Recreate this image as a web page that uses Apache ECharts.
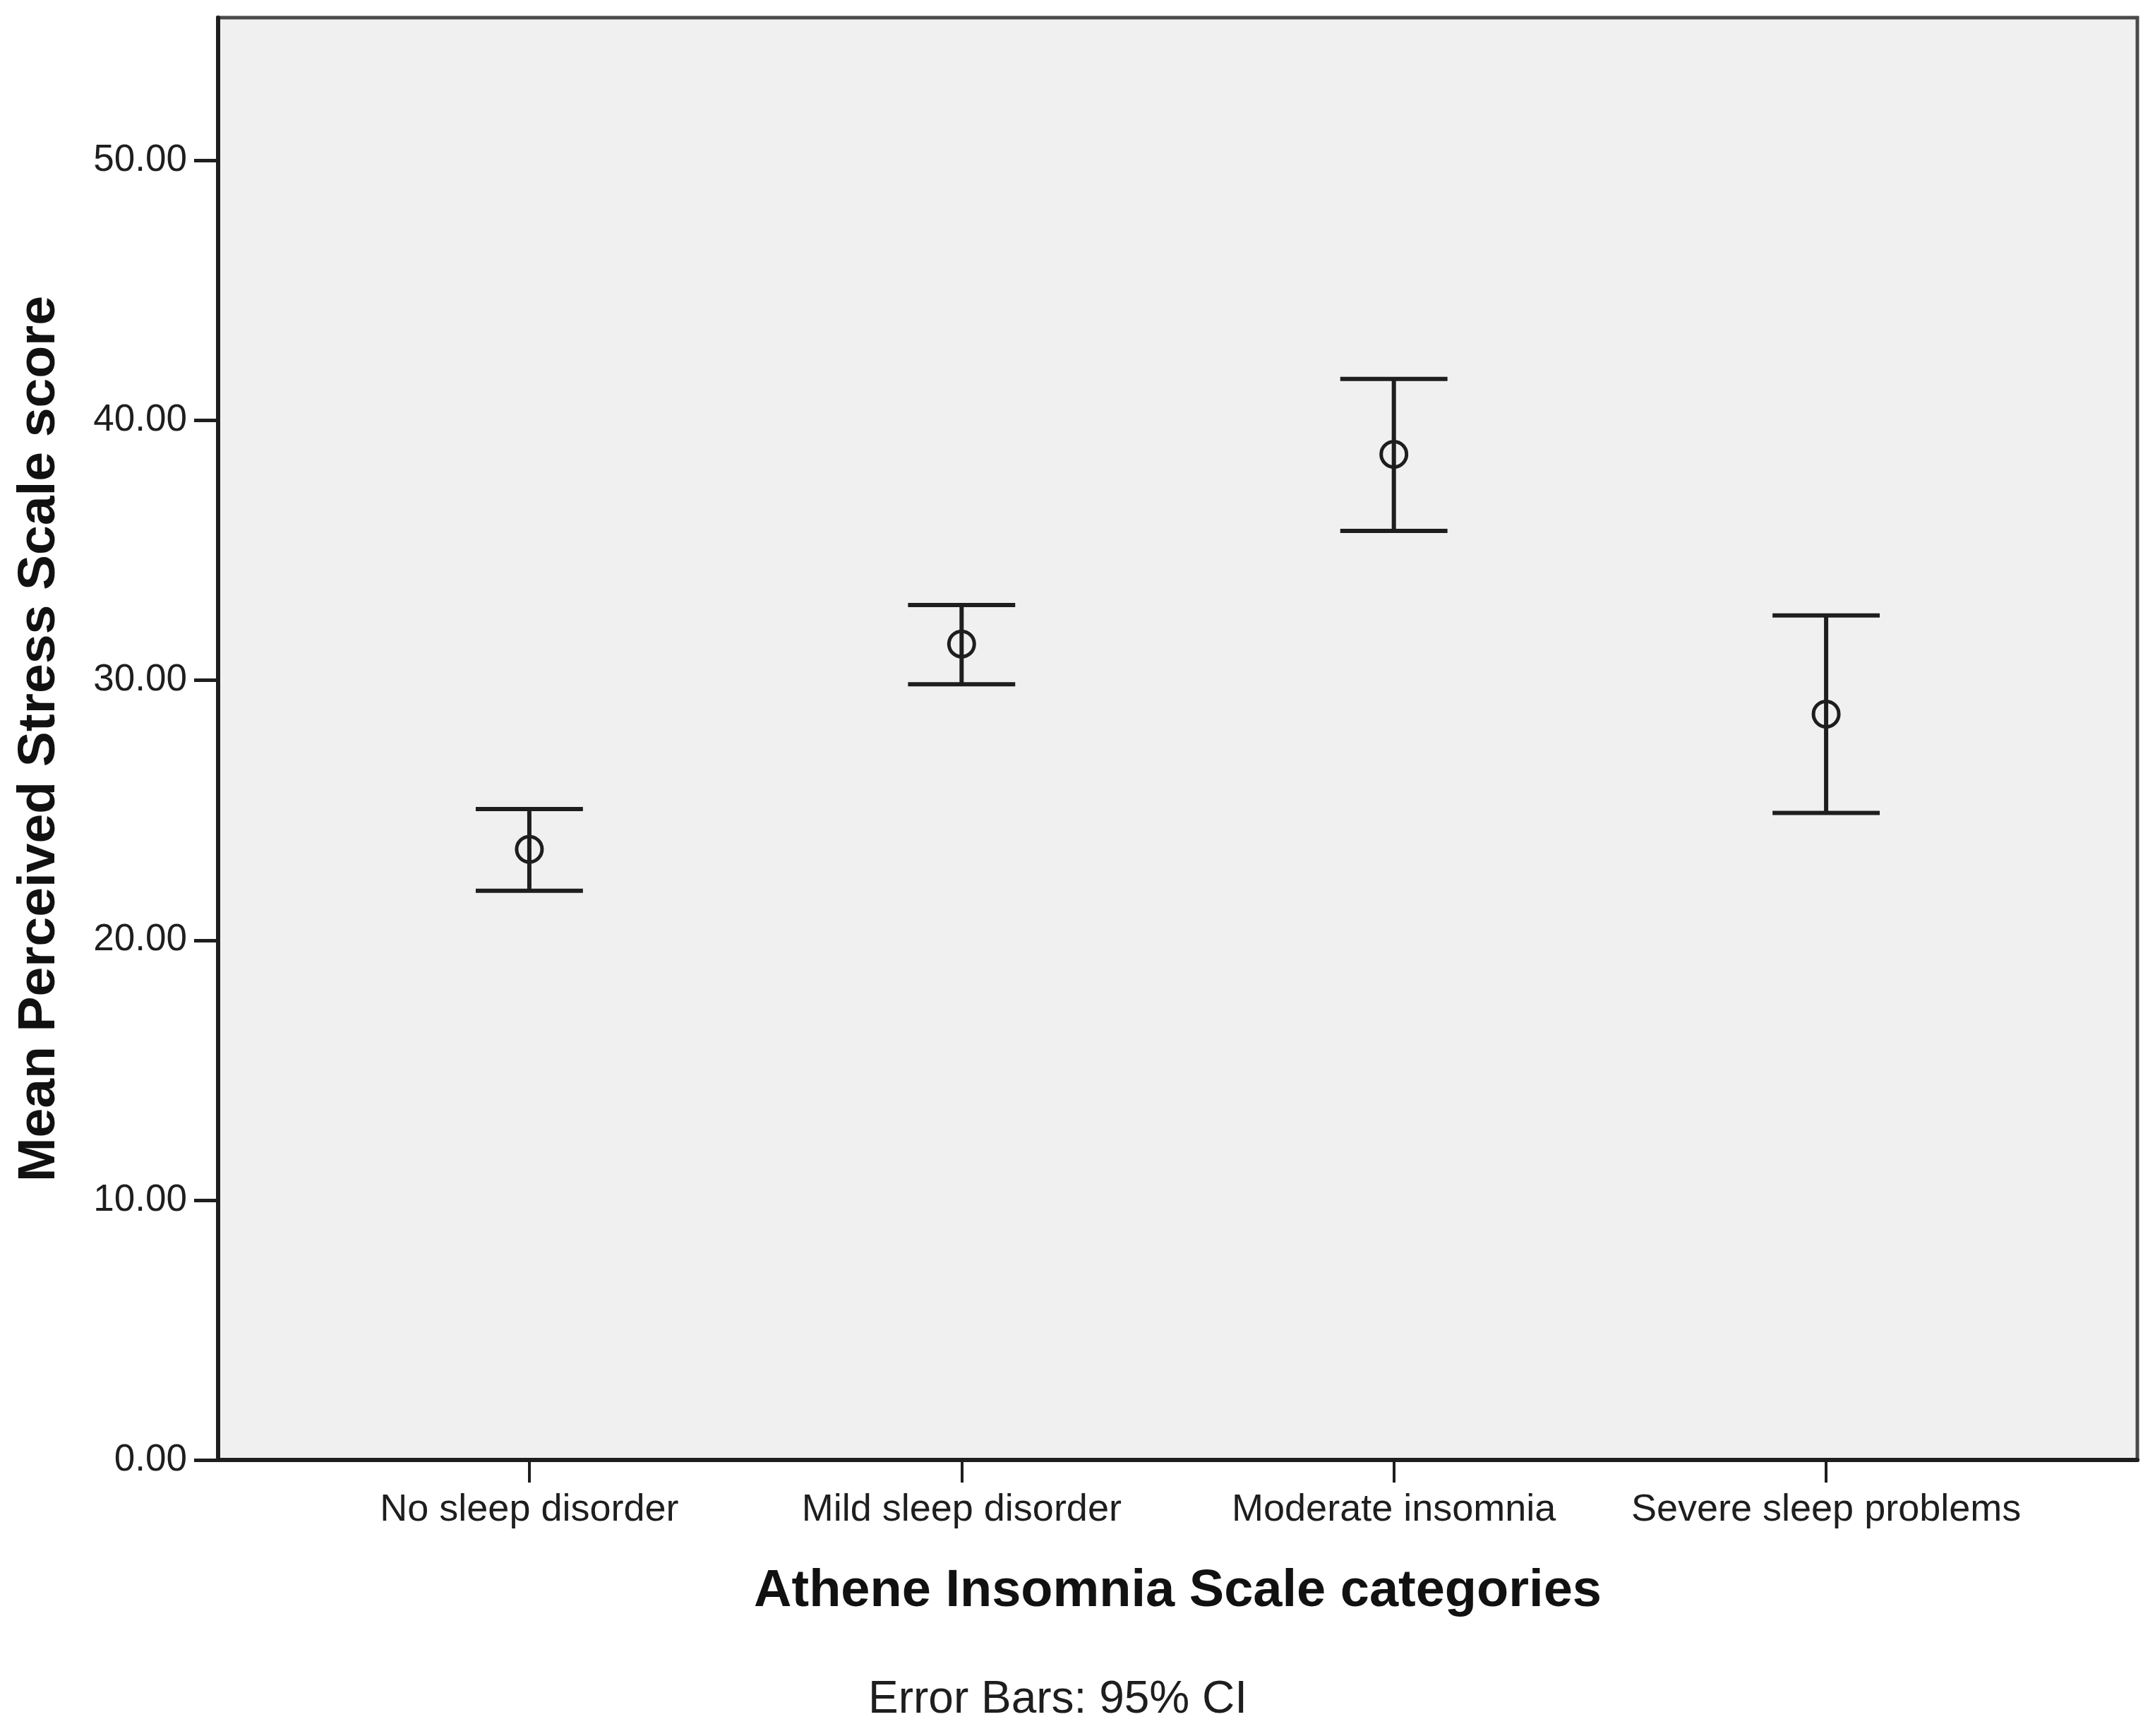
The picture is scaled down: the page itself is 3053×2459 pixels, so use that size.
<!DOCTYPE html>
<html>
<head>
<meta charset="utf-8">
<script src="https://cdn.jsdelivr.net/npm/echarts@6/dist/echarts.min.js"></script>
<style>
  html, body { margin: 0; padding: 0; background: #fff; }
  #chart { width: 3053px; height: 2459px; }
</style>
</head>
<body>
<div id="chart"></div>
<script>
// AIS categories and PSS means with 95% CI
var categories = ['No sleep disorder', 'Mild sleep disorder', 'Moderate insomnia', 'Severe sleep problems'];
var means = [23.5, 31.4, 38.7, 28.7];
var lower = [21.9, 29.85, 35.75, 24.9];
var upper = [25.05, 32.9, 41.6, 32.5];
var yTicks = [0, 10, 20, 30, 40, 50];

var fontFamily = '"Liberation Sans", Arial, sans-serif';
var ink = '#1e1e1e';

var chart = echarts.init(document.getElementById('chart'));

var barData = categories.map(function (c, i) { return [i, lower[i], upper[i]]; });
var meanData = categories.map(function (c, i) { return [i, means[i]]; });
var catIdx = categories.map(function (c, i) { return i; });

var option = {
  backgroundColor: '#fff',
  animation: false,
  grid: {
    left: 309, right: 25, top: 25, bottom: 391,
    show: true,
    backgroundColor: '#f0f0f0',
    borderColor: '#4a4a4a',
    borderWidth: 5
  },
  xAxis: {
    type: 'value',
    min: -0.72,
    max: 3.72,
    name: 'Athene Insomnia Scale categories',
    nameLocation: 'middle',
    nameGap: 150,
    nameTextStyle: { fontFamily: fontFamily, fontWeight: 'bold', fontSize: 74, color: '#111' },
    splitLine: { show: false },
    axisLine: { onZero: false, lineStyle: { color: ink, width: 6 } },
    axisTick: { length: 32, lineStyle: { color: ink, width: 4 }, customValues: catIdx },
    axisLabel: {
      customValues: catIdx,
      margin: 44,
      fontFamily: fontFamily,
      fontSize: 54,
      color: ink,
      formatter: function (v) { return categories[Math.round(v)]; }
    }
  },
  yAxis: {
    type: 'value',
    min: 0,
    max: 55.5,
    interval: 10,
    name: 'Mean Perceived Stress Scale score',
    nameLocation: 'middle',
    nameGap: 215,
    nameTextStyle: { fontFamily: fontFamily, fontWeight: 'bold', fontSize: 75, color: '#111' },
    splitLine: { show: false },
    axisLine: { onZero: false, lineStyle: { color: ink, width: 6 } },
    axisTick: { length: 34, lineStyle: { color: ink, width: 5 }, customValues: yTicks },
    axisLabel: {
      customValues: yTicks,
      margin: 44,
      fontFamily: fontFamily,
      fontSize: 53,
      color: ink,
      formatter: function (v) { return v.toFixed(2); }
    }
  },
  graphic: [{
    type: 'text',
    left: 1501 - 271,
    top: 2410 - 34,
    style: {
      text: 'Error Bars: 95% CI',
      font: '64px ' + fontFamily,
      fill: ink
    }
  }],
  series: [
    {
      type: 'custom',
      name: '95% CI',
      data: barData,
      renderItem: function (params, api) {
        var x = api.value(0);
        var lo = api.coord([x, api.value(1)]);
        var hi = api.coord([x, api.value(2)]);
        var half = api.size([0.124, 0])[0];
        var style = { stroke: ink, lineWidth: 6 };
        return {
          type: 'group',
          children: [
            { type: 'line', shape: { x1: lo[0], y1: lo[1], x2: hi[0], y2: hi[1] }, style: style },
            { type: 'line', shape: { x1: hi[0] - half, y1: hi[1], x2: hi[0] + half, y2: hi[1] }, style: style },
            { type: 'line', shape: { x1: lo[0] - half, y1: lo[1], x2: lo[0] + half, y2: lo[1] }, style: style }
          ]
        };
      },
      z: 2
    },
    {
      type: 'scatter',
      name: 'Mean',
      data: meanData,
      symbol: 'circle',
      symbolSize: 36,
      itemStyle: { color: 'rgba(0,0,0,0)', borderColor: ink, borderWidth: 5, opacity: 1 },
      z: 3
    }
  ]
};

chart.setOption(option);
</script>
</body>
</html>
